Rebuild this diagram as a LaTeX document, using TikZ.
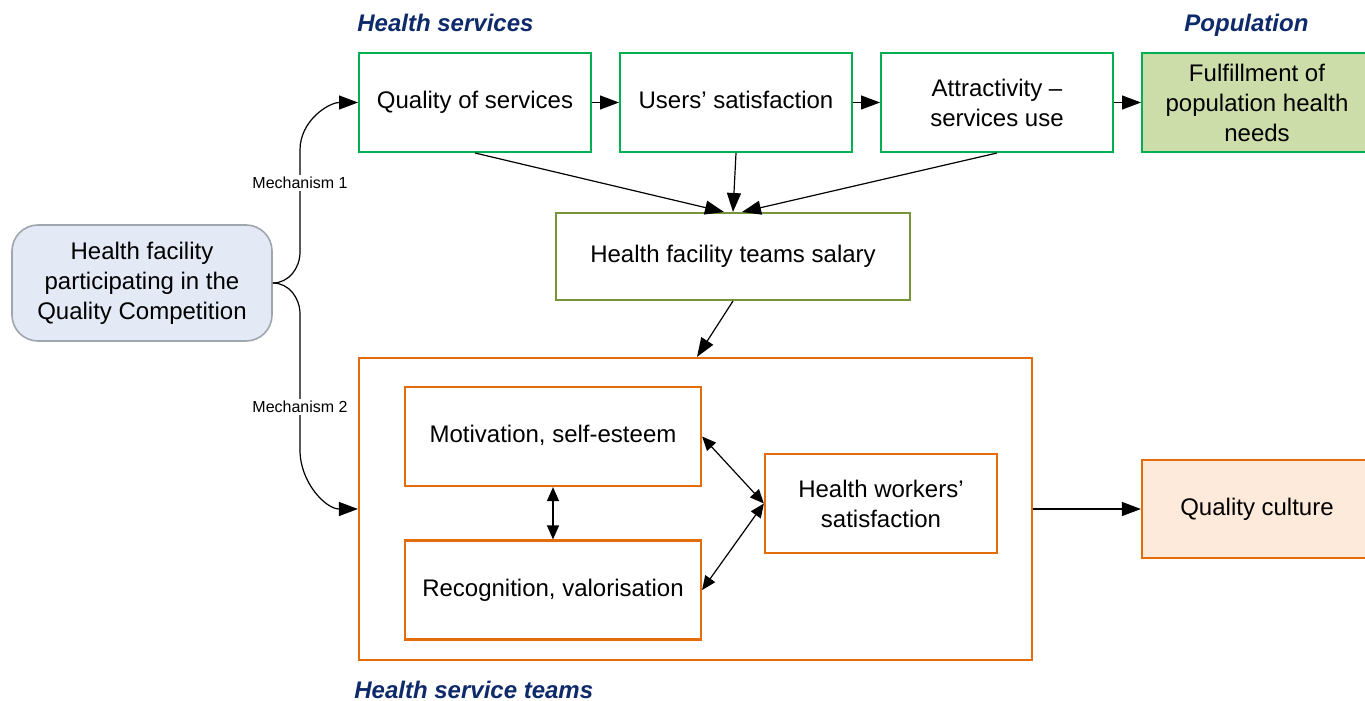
\documentclass[tikz,border=0pt]{standalone}
\usepackage{fontspec}
\setmainfont{Liberation Sans}
\usetikzlibrary{arrows.meta}
\definecolor{gborder}{HTML}{00B050}
\definecolor{gfill}{HTML}{CCDDAA}
\definecolor{olive}{HTML}{77933C}
\definecolor{orng}{HTML}{E46C0A}
\definecolor{ofill}{HTML}{FDEADA}
\definecolor{bfill}{HTML}{E3EAF5}
\definecolor{bborder}{HTML}{A0A6AE}
\definecolor{navy}{HTML}{0E2A6B}
\begin{document}
\begin{tikzpicture}[x=0.5pt,y=-0.5pt,
  box/.style={draw, line width=1pt, inner sep=0pt, align=center,
    minimum width=116pt, minimum height=49.5pt,
    font=\fontsize{12}{15}\selectfont},
  oneline/.style={text height=8.6pt, text depth=2.4pt},
  gbox/.style={box, draw=gborder},
  obox/.style={box, draw=orng, line width=1.1pt},
  title/.style={font=\fontsize{12}{14}\selectfont\bfseries\itshape, text=navy, inner sep=0pt},
  conn/.style={line width=0.6pt, -{Triangle[length=9.5pt,width=7pt]}},
  dconn/.style={line width=0.6pt, {Triangle[length=7pt,width=6pt]}-{Triangle[length=7pt,width=6pt]}},
  mech/.style={fill=white, inner sep=1pt, font=\fontsize{8}{9}\selectfont}]
\clip (0,0) rectangle (1365,701);
\fill[white] (0,0) rectangle (1365,701);

% titles
\node[title, anchor=base west] (t1) at (357,31.5) {Health services};
\node[title, anchor=base west] (t2) at (1184,31.5) {Population};
\node[title, anchor=base west] (t3) at (354,698) {Health service teams};

% top row
\node[gbox, oneline] (q) at (475,102.5) {Quality of services};
\node[gbox, oneline] (u) at (736,102.5) {Users’ satisfaction};
\node[gbox] (a) at (997,102.5) {Attractivity –\\services use};
\node[gbox, fill=gfill, minimum width=115pt] (f) at (1257,102.5) {Fulfillment of\\population health\\needs};

% salary
\node[box, oneline, draw=olive, minimum width=177pt, minimum height=43.5pt] (s) at (733,256.5) {Health facility teams salary};

% left box
\node[box, draw=bborder, fill=bfill, line width=0.8pt, rounded corners=13pt,
  minimum width=130pt, minimum height=58pt] (hf) at (142,283) {Health facility\\participating in the\\Quality Competition};

% big orange box
\node[obox, minimum width=336.5pt, minimum height=151pt] (big) at (695.5,509) {};
\node[obox, oneline, minimum width=148pt, minimum height=49.5pt] (m) at (553,436.5) {Motivation, self-esteem};
\node[obox, oneline, minimum width=148pt, minimum height=49.5pt] (r) at (553,590) {Recognition, valorisation};
\node[obox] (hw) at (881,503.5) {Health workers’\\satisfaction};
\node[obox, oneline, fill=ofill, minimum width=115pt, minimum height=49pt] (qc) at (1257,509) {Quality culture};

% connectors top row
\draw[conn] (q) -- (u);
\draw[conn] (u) -- (a);
\draw[conn] (a) -- (f);
\draw[conn] (q.south) -- ([xshift=-4.5pt]s.north);
\draw[conn] (u.south) -- (s.north);
\draw[conn] (a.south) -- ([xshift=4.5pt]s.north);
\draw[conn] (s.south) -- ([xshift=0.75pt]big.north);

% mechanisms
\draw[conn] (hf.east) to[out=0,in=-90] (300,252) -- (300,150) to[out=90,in=180] (q.west);
\draw[conn] (hf.east) to[out=0,in=90] (300,314) -- (300,450) to[out=-90,in=180] (big.west);
\node[mech] (m1) at (300,183) {Mechanism 1};
\node[mech] (m2) at (300,407) {Mechanism 2};

% inner
\draw[dconn] (m.south) -- (r.north);
\draw[dconn] (m.east) -- (hw.west);
\draw[dconn] (r.east) -- (hw.west);
\draw[conn] (big.east) -- (qc.west);
\end{tikzpicture}
\end{document}
